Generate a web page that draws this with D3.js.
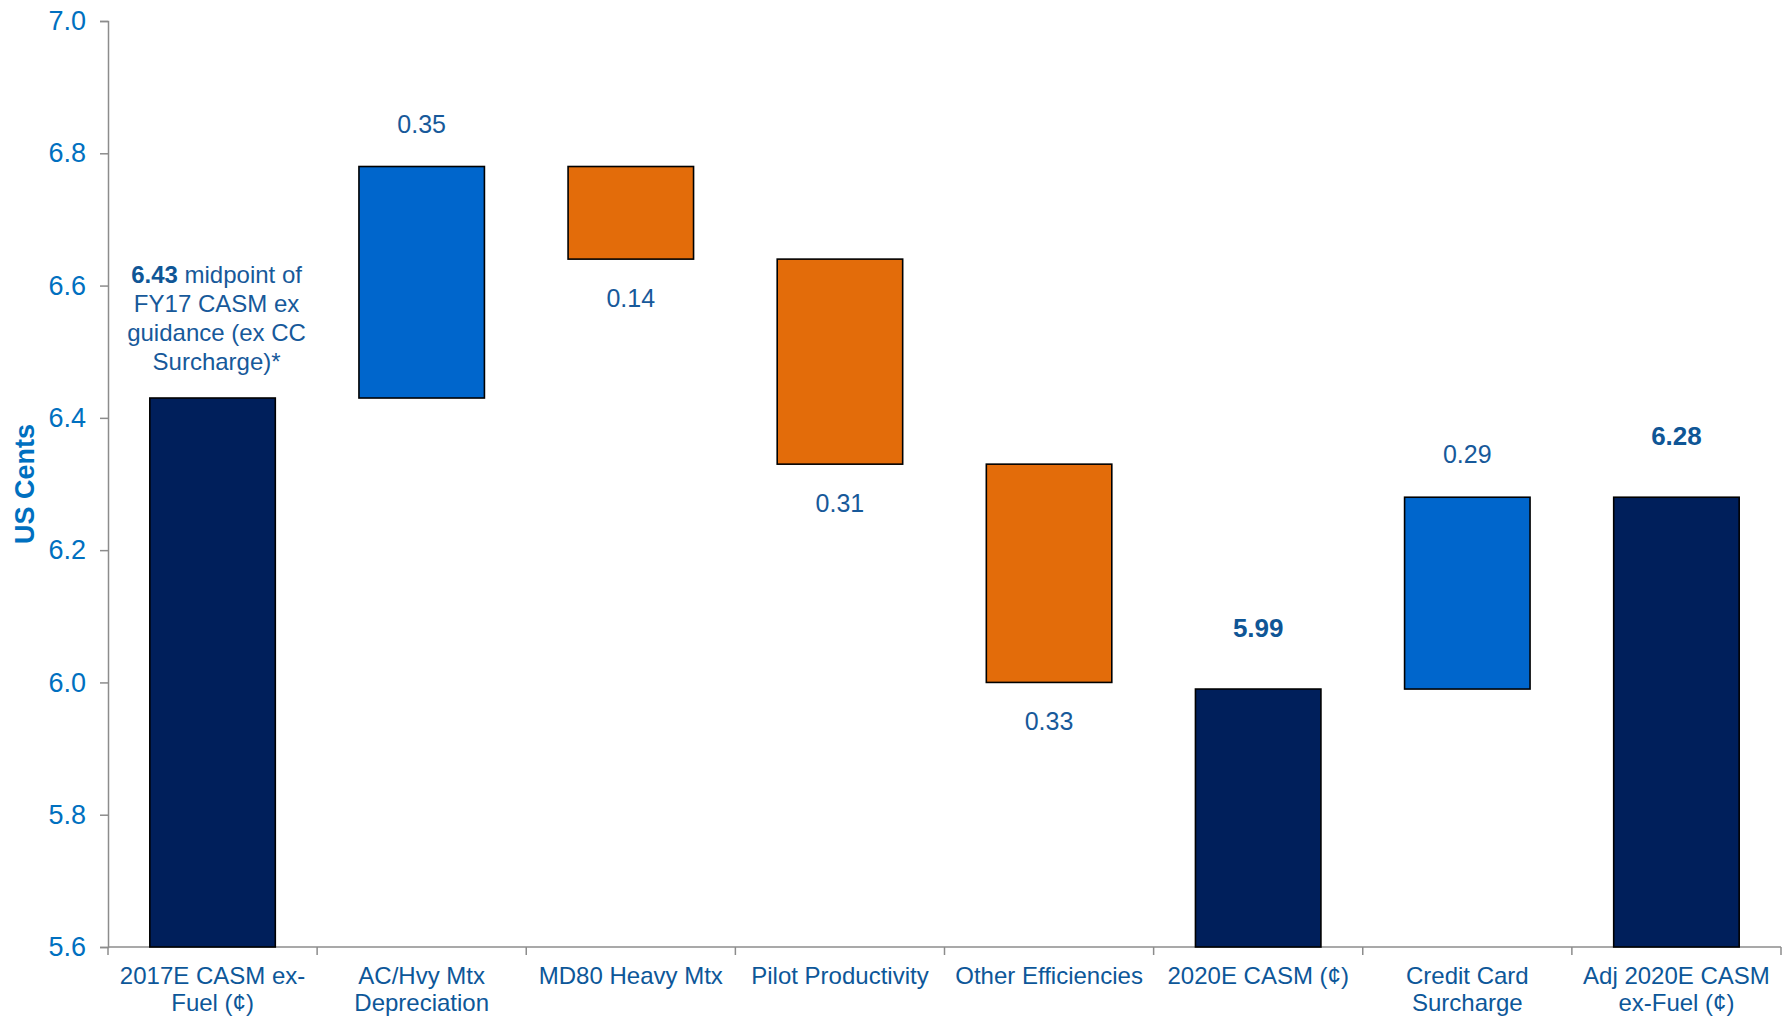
<!DOCTYPE html>
<html>
<head>
<meta charset="utf-8">
<script src="https://cdnjs.cloudflare.com/ajax/libs/d3/7.8.5/d3.min.js"></script>
<style>
  html, body { margin: 0; padding: 0; background: #ffffff; }
  svg { display: block; font-family: "Liberation Sans", Arial, sans-serif; }
</style>
</head>
<body>
<svg id="chart" width="1787" height="1016"></svg>
<script>
// CASM ex-fuel bridge, 2017E to adjusted 2020E (US cents)
const categories = [
  "2017E CASM ex-\nFuel (\u00A2)",
  "AC/Hvy Mtx\nDepreciation",
  "MD80 Heavy Mtx",
  "Pilot Productivity",
  "Other Efficiencies",
  "2020E CASM (\u00A2)",
  "Credit Card\nSurcharge",
  "Adj 2020E CASM\nex-Fuel (\u00A2)"
];
const stepTypes = ["total", "increase", "decrease", "decrease", "decrease", "total", "increase", "total"];
const stepValues = [6.43, 0.35, 0.14, 0.31, 0.33, 5.99, 0.29, 6.28];
const yTicks = [5.6, 5.8, 6.0, 6.2, 6.4, 6.6, 6.8, 7.0];
const startNote = ["midpoint of", "FY17 CASM ex", "guidance (ex CC", "Surcharge)*"];

const W = 1787, H = 1016;
const margin = { left: 108, right: 6, top: 21, bottom: 69 };
const svg = d3.select("#chart");

const x = d3.scaleBand()
  .domain(categories)
  .range([margin.left, W - margin.right])
  .paddingInner(0.4)
  .paddingOuter(0.2);

const y = d3.scaleLinear()
  .domain([5.6, 7.0])
  .range([H - margin.bottom, margin.top]);

// Build floating segments: totals rest on the axis floor, steps move a running level
let level = 0;
const bars = categories.map((c, i) => {
  const t = stepTypes[i], v = stepValues[i];
  let lo, hi;
  if (t === "total") { lo = y.domain()[0]; hi = v; level = v; }
  else if (t === "increase") { lo = level; hi = level + v; level = hi; }
  else { hi = level; lo = level - v; level = lo; }
  return { c, t, v, lo, hi };
});

const fills = { total: "#001F5B", increase: "#0066CC", decrease: "#E36C0A" };

// Axes
const axisColor = "#8c8c8c";
const yAxis = svg.append("g")
  .attr("transform", `translate(${margin.left},0)`)
  .call(d3.axisLeft(y).tickValues(yTicks).tickFormat(d3.format(".1f")).tickSize(8).tickPadding(14));
yAxis.select(".domain").attr("stroke", axisColor).attr("stroke-width", 1.5);
yAxis.selectAll(".tick line").attr("stroke", axisColor).attr("stroke-width", 1.5);
yAxis.selectAll(".tick text")
  .attr("fill", "#0070C0")
  .style("font-size", "27px")
  .style("font-family", "'Liberation Sans', Arial, sans-serif");

const baseY = y.range()[0];
svg.append("line")
  .attr("x1", margin.left).attr("x2", W - margin.right)
  .attr("y1", baseY).attr("y2", baseY)
  .attr("stroke", axisColor).attr("stroke-width", 1.5);

const bounds = categories.map(c => x(c) - x.step() * x.paddingInner() / 2);
bounds.push(W - margin.right);
svg.append("g").selectAll("line")
  .data(bounds)
  .join("line")
  .attr("x1", d => d).attr("x2", d => d)
  .attr("y1", baseY).attr("y2", baseY + 8)
  .attr("stroke", axisColor).attr("stroke-width", 1.5);

// Y axis title
svg.append("text")
  .attr("transform", `translate(34,${(y.range()[0] + y.range()[1]) / 2}) rotate(-90)`)
  .attr("text-anchor", "middle")
  .attr("fill", "#0070C0")
  .style("font-size", "27px")
  .style("font-weight", "bold")
  .text("US Cents");

// Bars
svg.append("g").selectAll("rect")
  .data(bars)
  .join("rect")
  .attr("x", d => x(d.c))
  .attr("width", x.bandwidth())
  .attr("y", d => y(d.hi))
  .attr("height", d => y(d.lo) - y(d.hi))
  .attr("fill", d => fills[d.t])
  .attr("stroke", "#000000")
  .attr("stroke-width", 1.6);

// Value labels
const labelColor = "#17599A";
const fmt = d3.format(".2f");
svg.append("g").selectAll("text")
  .data(bars.filter((d, i) => i > 0))
  .join("text")
  .attr("x", d => x(d.c) + x.bandwidth() / 2)
  .attr("y", d => d.t === "decrease" ? y(d.lo) + 48 : d.t === "increase" ? y(d.hi) - 34 : y(d.hi) - 52)
  .attr("text-anchor", "middle")
  .attr("fill", d => d.t === "total" ? "#0F5696" : labelColor)
  .style("font-size", d => d.t === "total" ? "26px" : "25px")
  .style("font-weight", d => d.t === "total" ? "bold" : "normal")
  .text(d => fmt(d.v));

// Note above the opening bar
const first = bars[0];
const note = svg.append("text")
  .attr("text-anchor", "middle")
  .attr("fill", labelColor)
  .style("font-size", "24px");
const noteX = x(first.c) + x.bandwidth() / 2 + 4;
const noteBottom = y(first.hi) - 28;
startNote.forEach((line, i) => {
  const t = note.append("tspan")
    .attr("x", noteX)
    .attr("y", noteBottom - (startNote.length - 1 - i) * 29);
  if (i === 0) {
    t.append("tspan").style("font-weight", "bold").attr("fill", "#0F5696").text(fmt(first.v));
    t.append("tspan").text(" " + line);
  } else {
    t.text(line);
  }
});

// Category labels
const catG = svg.append("g");
categories.forEach(c => {
  const lines = c.split("\n");
  const t = catG.append("text")
    .attr("text-anchor", "middle")
    .attr("fill", "#0D5799")
    .style("font-size", "24px");
  lines.forEach((ln, j) => {
    t.append("tspan")
      .attr("x", x(c) + x.bandwidth() / 2)
      .attr("y", baseY + 37 + j * 27)
      .text(ln);
  });
});
</script>
</body>
</html>
